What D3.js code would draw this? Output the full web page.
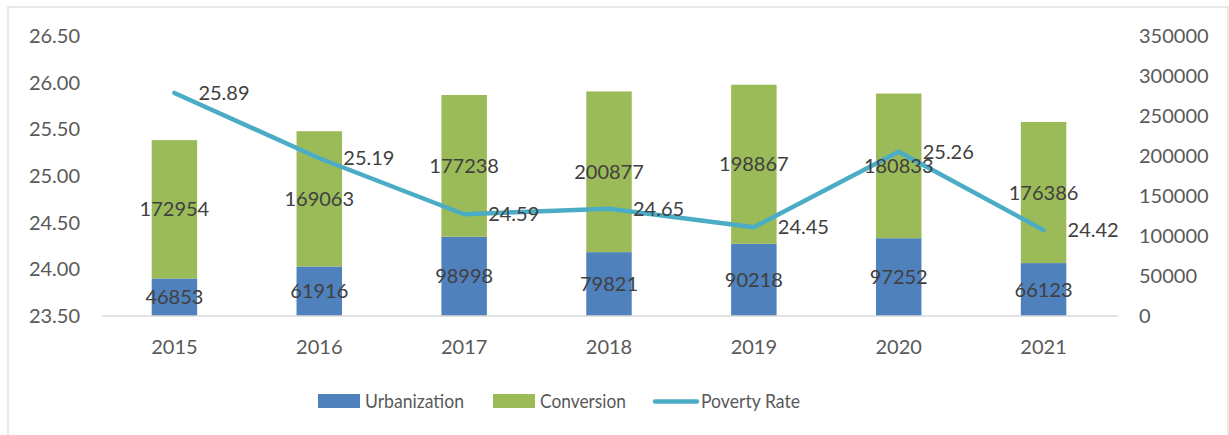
<!DOCTYPE html>
<html>
<head>
<meta charset="utf-8">
<script src="https://cdn.jsdelivr.net/npm/d3@7"></script>
<style>
  body { margin: 0; background: #fff; }
  text { font-family: Lato, "Open Sans", sans-serif; }
</style>
</head>
<body>
<div id="chart"></div>
<script>
var years = ["2015", "2016", "2017", "2018", "2019", "2020", "2021"];
var urbanization = [46853, 61916, 98998, 79821, 90218, 97252, 66123];
var conversion = [172954, 169063, 177238, 200877, 198867, 180833, 176386];
var povertyRate = [25.89, 25.19, 24.59, 24.65, 24.45, 25.26, 24.42];
var leftTicks = [23.5, 24, 24.5, 25, 25.5, 26, 26.5];
var rightTicks = [0, 50000, 100000, 150000, 200000, 250000, 300000, 350000];
var seriesNames = ["Urbanization", "Conversion", "Poverty Rate"];

var width = 1229, height = 435;
var margin = {top: 36, right: 113, bottom: 119, left: 102};

var svg = d3.select("#chart")
            .append("svg")
            .attr("width", width)
            .attr("height", height);

// outer frame
svg.append("rect")
   .attr("x", 8).attr("y", 7)
   .attr("width", 1220).attr("height", 440)
   .attr("fill", "none")
   .attr("stroke", "#d9d9d9")
   .attr("stroke-width", 1.2);

var x = d3.scaleBand()
          .domain(years)
          .range([margin.left, width - margin.right])
          .paddingInner(0.686)
          .paddingOuter(0.343);

var yLeft = d3.scaleLinear().domain([23.5, 26.5]).range([height - margin.bottom, margin.top]);
var yRight = d3.scaleLinear().domain([0, 350000]).range([height - margin.bottom, margin.top]);

var rows = years.map(function(y, i) {
  return {year: y, urb: urbanization[i], conv: conversion[i], rate: povertyRate[i]};
});

// left axis labels
svg.append("g").selectAll("text")
   .data(leftTicks)
   .enter().append("text")
   .attr("x", 80)
   .attr("y", d => yLeft(d))
   .attr("dy", "0.35em")
   .attr("text-anchor", "end")
   .attr("font-size", 20)
   .attr("fill", "#595959")
   .text(d => d3.format(".2f")(d));

// right axis labels
svg.append("g").selectAll("text")
   .data(rightTicks)
   .enter().append("text")
   .attr("x", 1139)
   .attr("y", d => yRight(d))
   .attr("dy", "0.35em")
   .attr("text-anchor", "start")
   .attr("font-size", 20)
   .attr("fill", "#595959")
   .text(d => d);

// bars
var bars = svg.append("g");
bars.selectAll(".urb")
    .data(rows)
    .enter().append("rect")
    .attr("x", d => x(d.year))
    .attr("width", x.bandwidth())
    .attr("y", d => yRight(d.urb))
    .attr("height", d => yRight(0) - yRight(d.urb))
    .attr("fill", "#4f81bd");
bars.selectAll(".conv")
    .data(rows)
    .enter().append("rect")
    .attr("x", d => x(d.year))
    .attr("width", x.bandwidth())
    .attr("y", d => yRight(d.urb + d.conv))
    .attr("height", d => yRight(d.urb) - yRight(d.urb + d.conv))
    .attr("fill", "#9bbb59");

// baseline
svg.append("line")
   .attr("x1", margin.left).attr("x2", width - margin.right + 2)
   .attr("y1", yRight(0)).attr("y2", yRight(0))
   .attr("stroke", "#d9d9d9")
   .attr("stroke-width", 1.5);

// x labels
svg.append("g").selectAll("text")
   .data(years)
   .enter().append("text")
   .attr("x", d => x(d) + x.bandwidth() / 2)
   .attr("y", 347)
   .attr("dy", "0.35em")
   .attr("text-anchor", "middle")
   .attr("font-size", 20)
   .attr("fill", "#595959")
   .text(d => d);

// poverty line
var line = d3.line()
             .x(d => x(d.year) + x.bandwidth() / 2)
             .y(d => yLeft(d.rate));
svg.append("path")
   .datum(rows)
   .attr("d", line)
   .attr("fill", "none")
   .attr("stroke", "#4bacc6")
   .attr("stroke-width", 4.5)
   .attr("stroke-linejoin", "round")
   .attr("stroke-linecap", "round");

// data labels
var labels = svg.append("g").attr("font-size", 20).attr("fill", "#404040");
labels.selectAll(".lu")
      .data(rows)
      .enter().append("text")
      .attr("x", d => x(d.year) + x.bandwidth() / 2)
      .attr("y", d => (yRight(0) + yRight(d.urb)) / 2)
      .attr("dy", "0.35em")
      .attr("text-anchor", "middle")
      .text(d => d.urb);
labels.selectAll(".lc")
      .data(rows)
      .enter().append("text")
      .attr("x", d => x(d.year) + x.bandwidth() / 2)
      .attr("y", d => (yRight(d.urb) + yRight(d.urb + d.conv)) / 2)
      .attr("dy", "0.35em")
      .attr("text-anchor", "middle")
      .text(d => d.conv);
labels.selectAll(".lr")
      .data(rows)
      .enter().append("text")
      .attr("x", d => x(d.year) + x.bandwidth() / 2 + 24)
      .attr("y", d => yLeft(d.rate))
      .attr("dy", "0.35em")
      .attr("text-anchor", "start")
      .text(d => d3.format(".2f")(d.rate));

// legend (text squeezed a little, the source font is narrower)
var legend = svg.append("g").attr("font-size", 20).attr("fill", "#595959");
legend.append("rect").attr("x", 318).attr("y", 394).attr("width", 42).attr("height", 14).attr("fill", "#4f81bd");
legend.append("text").attr("x", 365).attr("y", 401).attr("dy", "0.35em")
      .attr("textLength", 99).attr("lengthAdjust", "spacingAndGlyphs").text(seriesNames[0]);
legend.append("rect").attr("x", 493).attr("y", 394).attr("width", 42).attr("height", 14).attr("fill", "#9bbb59");
legend.append("text").attr("x", 540).attr("y", 401).attr("dy", "0.35em")
      .attr("textLength", 86).attr("lengthAdjust", "spacingAndGlyphs").text(seriesNames[1]);
legend.append("line").attr("x1", 655).attr("x2", 697).attr("y1", 401.5).attr("y2", 401.5)
      .attr("stroke", "#4bacc6").attr("stroke-width", 4.5).attr("stroke-linecap", "round");
legend.append("text").attr("x", 701).attr("y", 401).attr("dy", "0.35em")
      .attr("textLength", 99).attr("lengthAdjust", "spacingAndGlyphs").text(seriesNames[2]);
</script>
</body>
</html>
